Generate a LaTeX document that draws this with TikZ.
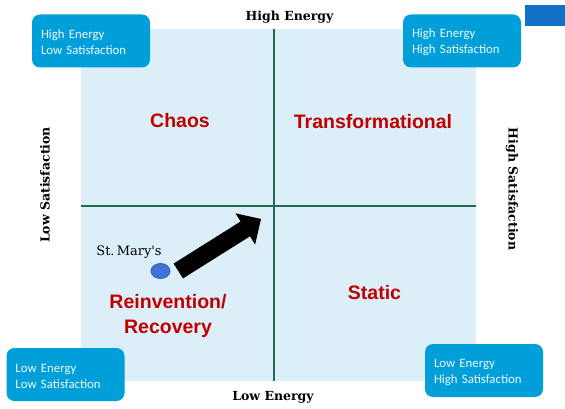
\documentclass[tikz,border=0pt]{standalone}
\usepackage{fontspec}
\setmainfont{Liberation Sans}
\newfontfamily\boxfont{Carlito}
\newfontfamily\axisfont{DejaVu Serif}
\usetikzlibrary{shapes.geometric}
\definecolor{gridfill}{HTML}{DCEEF8}
\definecolor{axisgreen}{HTML}{1F6B52}
\definecolor{tagblue}{HTML}{019FD9}
\definecolor{quadred}{HTML}{C00000}
\definecolor{cornerblue}{HTML}{1270C7}
\definecolor{dotblue}{HTML}{3F72D9}
\definecolor{dotedge}{HTML}{2A5BC0}
\tikzset{
  tagbox/.style={fill=tagblue, rounded corners=8pt, minimum width=118pt, minimum height=53pt,
    text width=100pt, align=left, text=white!94!tagblue, inner sep=0pt,
    font=\boxfont\fontsize{12.8}{16}\selectfont,
    execute at begin node=\strut},
  quadlabel/.style={text=quadred, font=\bfseries\fontsize{19.5}{24.5}\selectfont, align=center},
  axislabel/.style={font=\axisfont\bfseries\fontsize{12.5}{14}\selectfont},
  axisline/.style={draw=axisgreen, line width=2pt},
}
\begin{document}
\begin{tikzpicture}[x=1pt, y=-1pt]
\useasboundingbox (0,0) rectangle (565,409);
% quadrant field
\fill[gridfill] (81,29) rectangle (476,381);
\fill[cornerblue] (525,5) rectangle (565,26);
% axes
\coordinate (vtop) at (274,29);
\coordinate (vbot) at (274,381);
\coordinate (hleft) at (81,206);
\coordinate (hright) at (476,206);
\draw[axisline] (vtop) -- (vbot);
\draw[axisline] (hleft) -- (hright);
% axis titles
\node[axislabel] (he) at (289.5,17) {High Energy};
\node[axislabel] (le) at (273,397) {Low Energy};
\node[axislabel, rotate=90] (ls) at (45,185) {Low Satisfaction};
\node[axislabel, rotate=-90] (hs) at (512,189) {High Satisfaction};
% corner tags
\node[tagbox] (hels) at (91,41) {High Energy\\Low Satisfaction};
\node[tagbox] (hehs) at (462,41) {High Energy\\High Satisfaction};
\node[tagbox] (lels) at (65.5,374.5) {Low Energy\\Low Satisfaction};
\node[tagbox] (lehs) at (484,370.5) {Low Energy\\High Satisfaction};
% quadrant names
\node[quadlabel] (chaos) at (180,121) {Chaos};
\node[quadlabel] (trans) at (373,122) {Transformational};
\node[quadlabel] (static) at (374.5,293) {Static};
\node[quadlabel] (reinv) at (168,316) {Reinvention/\\Recovery};
% position marker
\node[font=\axisfont\fontsize{13}{15}\selectfont] (stm) at (129,252) {St.\,Mary's};
\node[ellipse, fill=dotblue, draw=dotedge, line width=0.8pt, minimum width=19pt, minimum height=15pt, inner sep=0pt] (dot) at (160.5,271) {};
% direction of travel
\fill[black] (183.0,278.4) -- (250.0,236.3) -- (255.1,244.6) -- (261,219)
  -- (235.5,213.3) -- (240.6,221.5) -- (173.6,263.6) -- cycle;
\end{tikzpicture}
\end{document}
